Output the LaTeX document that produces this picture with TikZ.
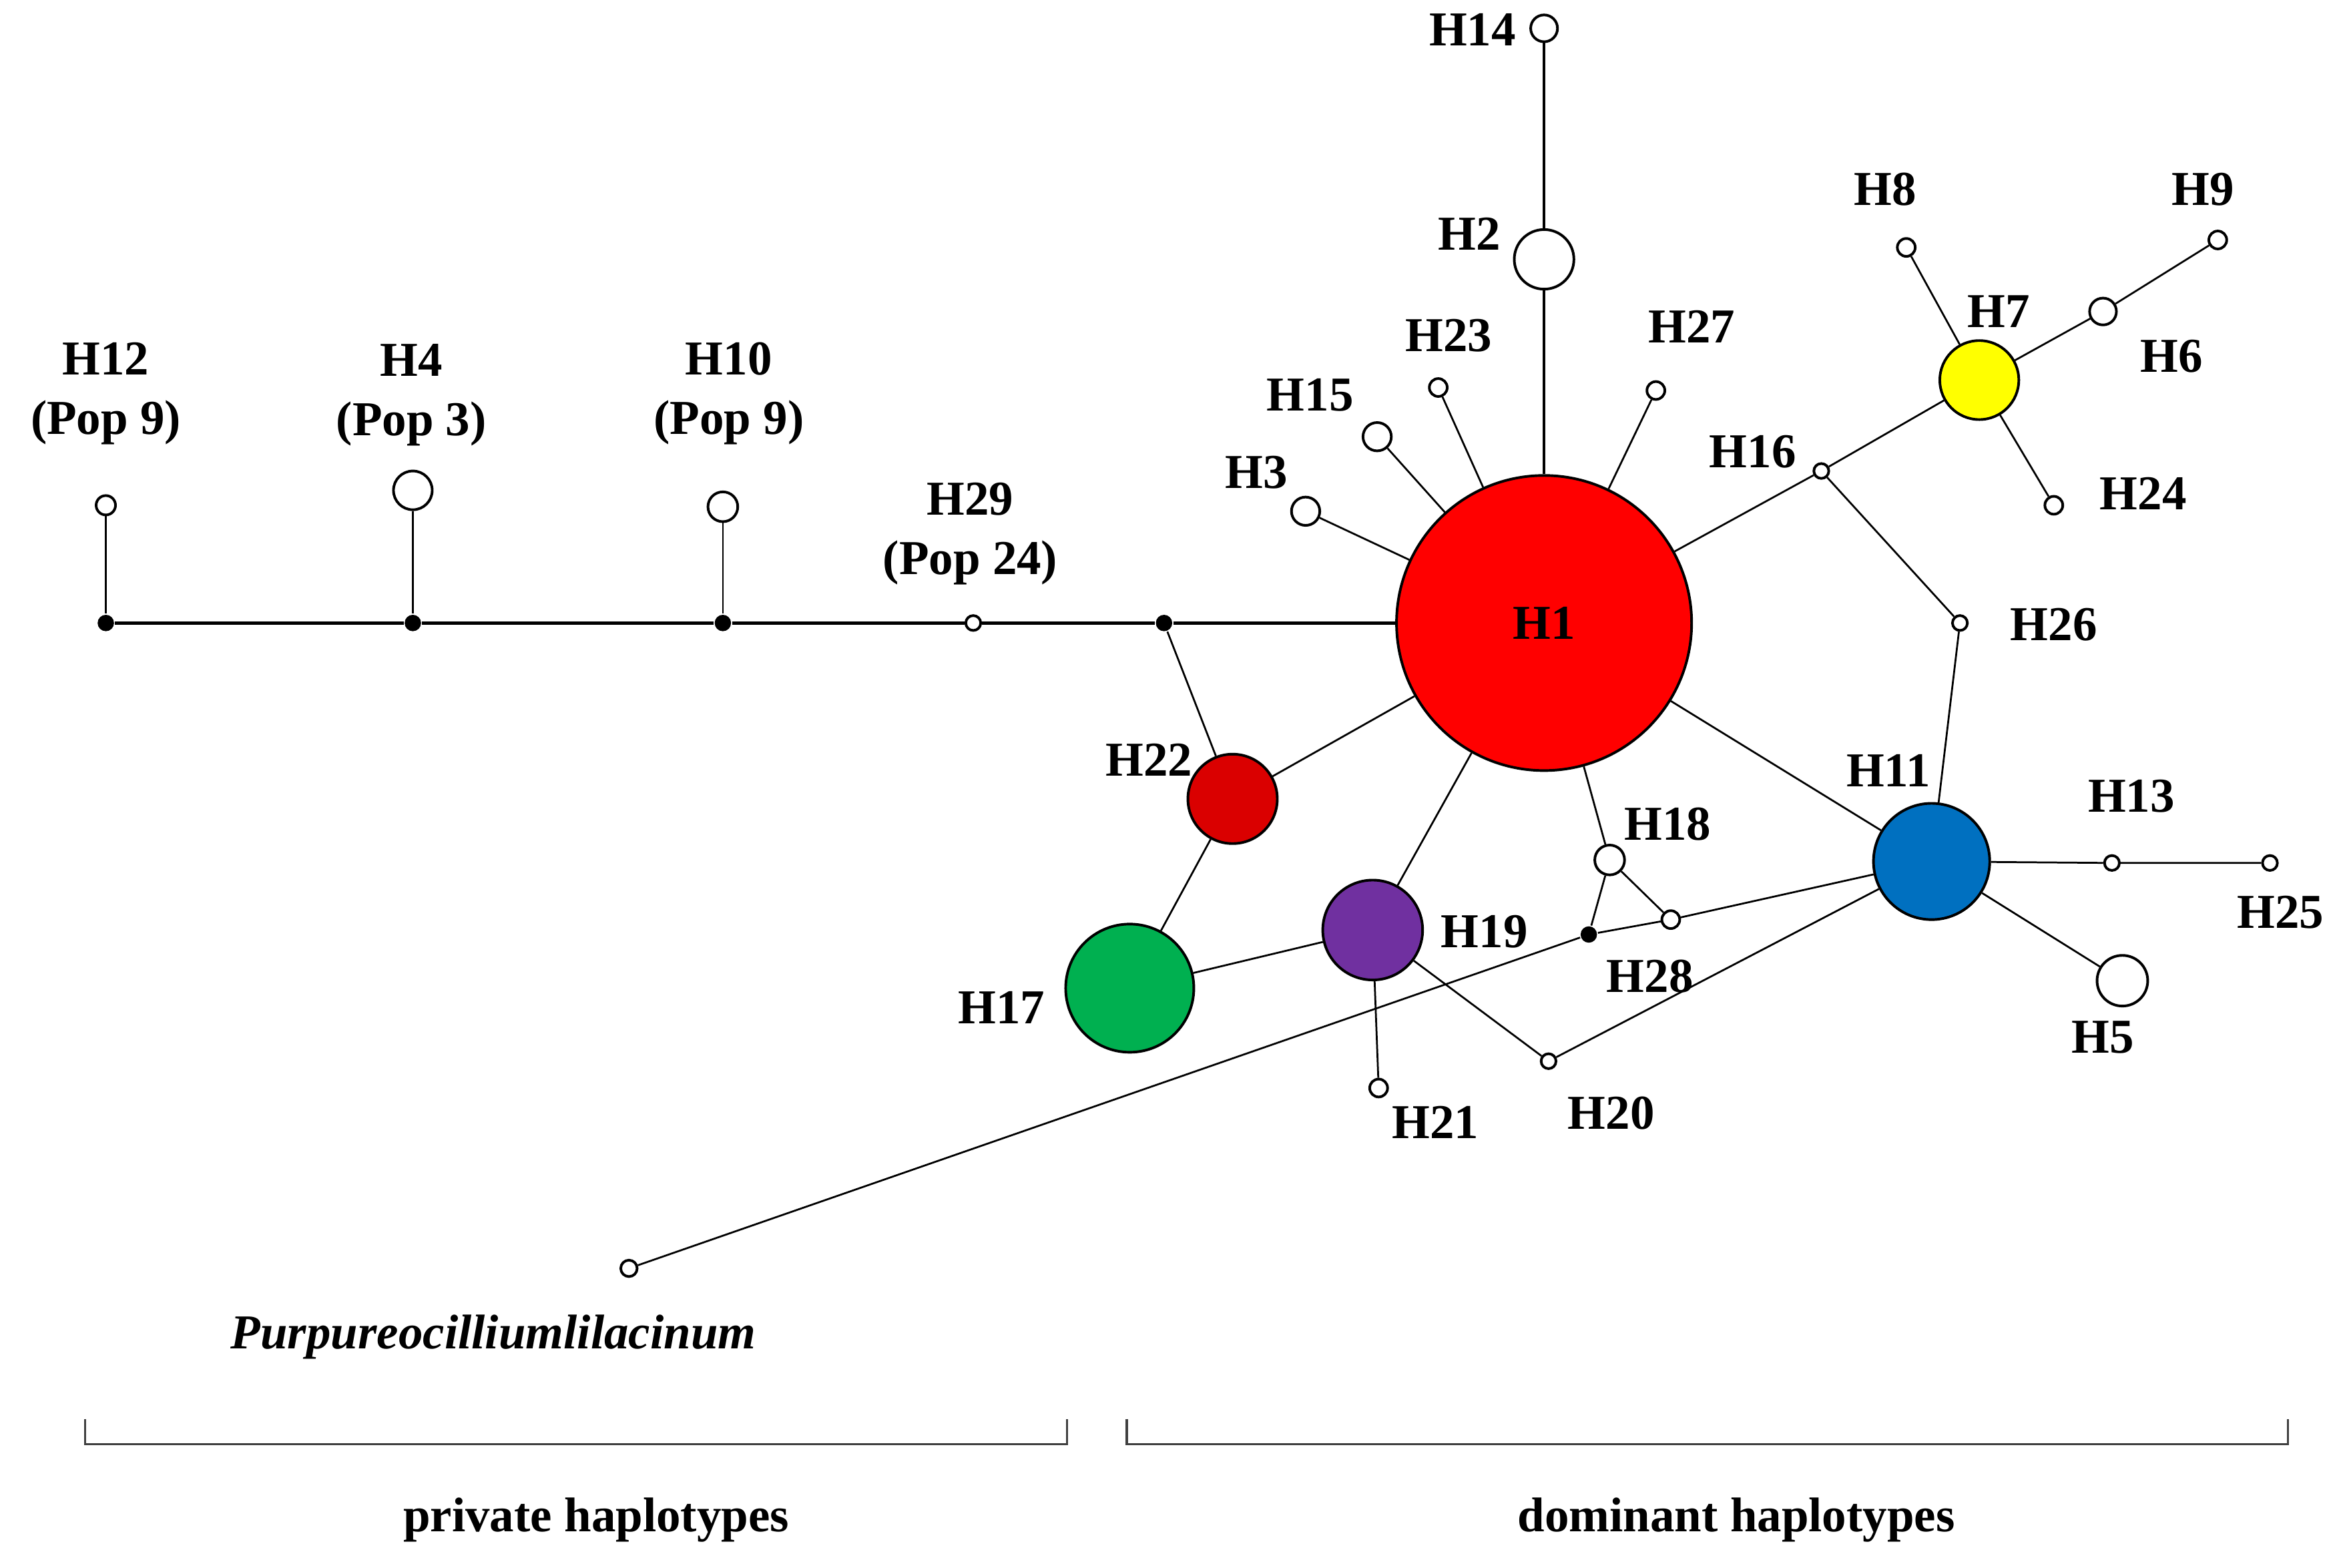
\documentclass[tikz,border=0pt]{standalone}
\usepackage{fontspec}
\setmainfont{Liberation Serif}
\definecolor{hred}{RGB}{255,0,0}
\definecolor{hdred}{RGB}{218,0,0}
\definecolor{hgreen}{RGB}{0,176,80}
\definecolor{hpurple}{RGB}{112,48,160}
\definecolor{hblue}{RGB}{0,112,192}
\definecolor{hyellow}{RGB}{255,255,0}
\begin{document}
\begin{tikzpicture}[x=0.1mm, y=-0.1mm,
	hap/.style={circle, draw, line width=0.5pt, fill=white, inner sep=0pt, minimum size=#1mm},
	med/.style={circle, fill=black, inner sep=0pt, minimum size=1.1mm},
	lab/.style={font=\fontsize{9.3}{11.4}\selectfont\bfseries, align=center, inner sep=0pt},
	edge/.style={line width=0.35pt}]
		\useasboundingbox (0,0) rectangle (1568,1052);
		% haplotypes
		\node [hap=19.8, fill=hred, font=\fontsize{9.3}{11.4}\selectfont\bfseries] (h1) at (1036,418) {H1};
		\node [hap=4] (h2) at (1036,174) {};
		\node [hap=1.8] (h14) at (1036,19) {};
		\node [hap=1.2] (h23) at (965,260) {};
		\node [hap=1.2] (h27) at (1111,262) {};
		\node [hap=1.9] (h15) at (924,293) {};
		\node [hap=1.9] (h3) at (876,343) {};
		\node [hap=1.0] (h16) at (1222,316) {};
		\node [hap=5.3, fill=hyellow] (h7) at (1328,255) {};
		\node [hap=1.2] (h8) at (1279,166) {};
		\node [hap=1.8] (h6) at (1411,209) {};
		\node [hap=1.2] (h9) at (1488,161) {};
		\node [hap=1.2] (h24) at (1378,339) {};
		\node [hap=1.0] (h26) at (1315,418) {};
		\node [hap=7.8, fill=hblue] (h11) at (1296,578) {};
		\node [hap=1.0] (h13) at (1417,579) {};
		\node [hap=1.0] (h25) at (1523,579) {};
		\node [hap=3.4] (h5) at (1424,658) {};
		\node [hap=6, fill=hdred] (h22) at (827,536) {};
		\node [hap=8.6, fill=hgreen] (h17) at (758,663) {};
		\node [hap=6.7, fill=hpurple] (h19) at (921,624) {};
		\node [hap=1.2] (h21) at (925,730) {};
		\node [hap=1.0] (h20) at (1039,712) {};
		\node [hap=2] (h18) at (1080,577) {};
		\node [hap=1.2] (h28) at (1121,617) {};
		\node [hap=1.3] (h12) at (71,339) {};
		\node [hap=2.6] (h4) at (277,329) {};
		\node [hap=2] (h10) at (485,340) {};
		\node [hap=1.0] (h29) at (653,418) {};
		\node [hap=1.1] (out) at (422,851) {};
		% median vectors
		\node [med] (m1) at (71,418) {};
		\node [med] (m2) at (277,418) {};
		\node [med] (m3) at (485,418) {};
		\node [med] (m4) at (781,418) {};
		\node [med] (m5) at (1066,627) {};
		% connections
		\draw [line width=0.7pt] (m1) -- (m2) -- (m3) -- (h29) -- (m4) -- (h1);
		\draw [edge] (h12) -- (m1) (h4) -- (m2) (h10) -- (m3);
		\draw [line width=0.5pt] (h14) -- (h2) -- (h1);
		\draw [edge] (m4) -- (h22) (h22) -- (h1) (h22) -- (h17) (h17) -- (h19) (h19) -- (h1);
		\draw [edge] (h19) -- (h21) (h19) -- (h20) (h20) -- (h11);
		\draw [edge] (h1) -- (h18) (h18) -- (m5) (h18) -- (h28) (m5) -- (h28) (h28) -- (h11);
		\draw [edge] (m5) -- (out);
		\draw [edge] (h1) -- (h11) (h1) -- (h3) (h1) -- (h15) (h1) -- (h23) (h1) -- (h27);
		\draw [edge] (h1) -- (h16) (h16) -- (h7) (h16) -- (h26) (h26) -- (h11);
		\draw [edge] (h7) -- (h8) (h7) -- (h6) (h6) -- (h9) (h7) -- (h24);
		\draw [edge] (h11) -- (h13) (h13) -- (h25) (h11) -- (h5);
		% labels
		\node [lab] (l14) at (988,20) {H14};
		\node [lab] (l2) at (986,157) {H2};
		\node [lab] (l23) at (972,225) {H23};
		\node [lab] (l27) at (1135,219) {H27};
		\node [lab] (l15) at (879,265) {H15};
		\node [lab] (l3) at (843,317) {H3};
		\node [lab] (l16) at (1176,303) {H16};
		\node [lab] (l7) at (1341,209) {H7};
		\node [lab] (l8) at (1265,127) {H8};
		\node [lab] (l6) at (1457,239) {H6};
		\node [lab] (l9) at (1478,127) {H9};
		\node [lab] (l24) at (1438,331) {H24};
		\node [lab] (l26) at (1378,419) {H26};
		\node [lab] (l11) at (1267,517) {H11};
		\node [lab] (l13) at (1430,534) {H13};
		\node [lab] (l25) at (1530,612) {H25};
		\node [lab] (l5) at (1411,696) {H5};
		\node [lab] (l22) at (771,510) {H22};
		\node [lab] (l17) at (672,676) {H17};
		\node [lab] (l19) at (996,625) {H19};
		\node [lab] (l21) at (963,753) {H21};
		\node [lab] (l20) at (1081,747) {H20};
		\node [lab] (l18) at (1119,553) {H18};
		\node [lab] (l28) at (1107,655) {H28};
		\node [lab] (l12) at (71,264) {H12\\(Pop 9)};
		\node [lab] (l4) at (276,265) {H4\\(Pop 3)};
		\node [lab] (l10) at (489,264) {H10\\(Pop 9)};
		\node [lab] (l29) at (651,358) {H29\\(Pop 24)};
		\node [lab, font=\fontsize{9.3}{11.4}\selectfont\bfseries\itshape] (lout) at (331,897) {Purpureocilliumlilacinum};
		% groups
		\draw [black!75, line width=0.45pt] (57,952) -- (57,969) -- (716,969) -- (716,952);
		\draw [black!75, line width=0.45pt] (756,952) -- (756,969) -- (1535,969) -- (1535,952);
		\node [lab] (lpriv) at (400,1020) {private haplotypes};
		\node [lab] (ldom) at (1165,1020) {dominant haplotypes};
	\end{tikzpicture}
\end{document}
